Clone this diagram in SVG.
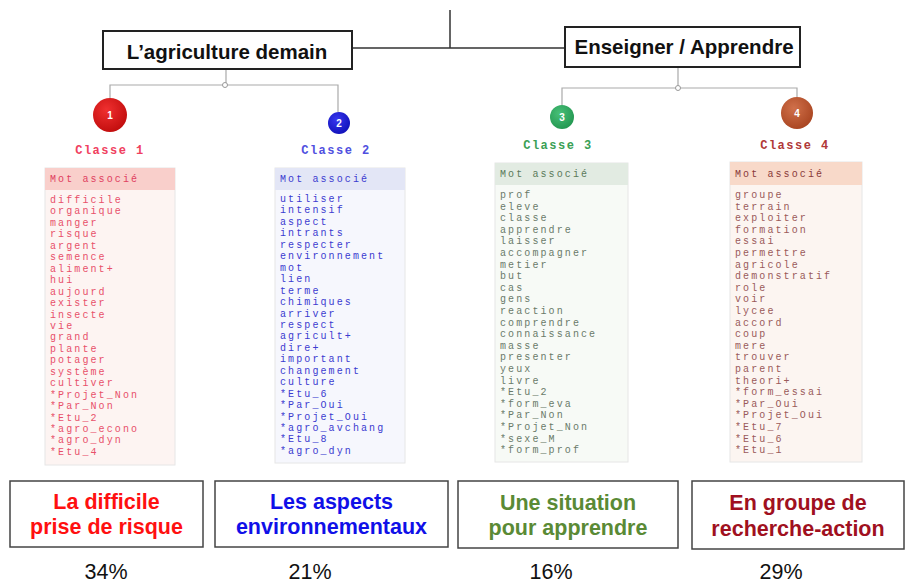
<svg xmlns="http://www.w3.org/2000/svg" width="905" height="584" viewBox="0 0 905 584">
<defs>
<radialGradient id="g1" cx="0.4" cy="0.35" r="0.7"><stop offset="0" stop-color="#f03030"/><stop offset="1" stop-color="#c00c0c"/></radialGradient>
<radialGradient id="g2" cx="0.4" cy="0.35" r="0.7"><stop offset="0" stop-color="#3838f0"/><stop offset="1" stop-color="#1010b8"/></radialGradient>
<radialGradient id="g3" cx="0.4" cy="0.35" r="0.7"><stop offset="0" stop-color="#48c078"/><stop offset="1" stop-color="#229650"/></radialGradient>
<radialGradient id="g4" cx="0.4" cy="0.35" r="0.7"><stop offset="0" stop-color="#d0704a"/><stop offset="1" stop-color="#a84420"/></radialGradient>
<style>
.hbox{fill:#fff;stroke:#222;stroke-width:2}
.htxt{font-family:"Liberation Sans",Arial,sans-serif;font-weight:bold;font-size:20.5px;fill:#111;text-anchor:middle}
.tree{fill:none;stroke:#aaa;stroke-width:1.2}
.main{fill:none;stroke:#333;stroke-width:1.5}
.num{font-family:"Liberation Sans",Arial,sans-serif;font-weight:bold;font-size:10px;fill:#fff;text-anchor:middle}
.cl{font-family:"Liberation Mono","Courier New",monospace;font-weight:bold;font-size:12px;letter-spacing:1.5px;text-anchor:middle}
.mono{font-family:"Liberation Mono","Courier New",monospace;font-size:10px;letter-spacing:2.1px}
.list{stroke:#e6e6e6;stroke-width:1}
.bbox{fill:#fff;stroke:#444;stroke-width:1.5}
.btxt{font-family:"Liberation Sans",Arial,sans-serif;font-weight:bold;font-size:21.5px;text-anchor:middle}
.pct{font-family:"Liberation Sans",Arial,sans-serif;font-size:21.5px;fill:#111;text-anchor:middle}
</style>
</defs>
<rect width="905" height="584" fill="#fff"/>

<g id="connectors">
<path class="main" d="M450,10 V48 M352,48 H565"/>
<path class="tree" d="M226,70 V85 M110,98 V85 H338 V112"/>
<circle cx="225" cy="85" r="2.5" fill="#fff" stroke="#999" stroke-width="1"/>
<path class="tree" d="M678,68 V88 M562,105 V88 H797 V97"/>
<circle cx="678" cy="88" r="2.5" fill="#fff" stroke="#999" stroke-width="1"/>
</g>

<g id="node-agriculture">
<rect class="hbox" x="103" y="31" width="249" height="38"/>
<text class="htxt" x="227" y="59">L’agriculture demain</text>
</g>
<g id="node-enseigner">
<rect class="hbox" x="565" y="27" width="235" height="40"/>
<text class="htxt" x="684" y="54">Enseigner / Apprendre</text>
</g>

<g id="classe1">
<circle cx="110" cy="115" r="17" fill="url(#g1)"/>
<text class="num" x="110" y="119">1</text>
<text class="cl" x="110" y="154" fill="#f04060">Classe 1</text>
</g>
<g id="classe2">
<circle cx="339" cy="123" r="11" fill="url(#g2)"/>
<text class="num" x="339" y="127">2</text>
<text class="cl" x="336" y="154" fill="#5050e0">Classe 2</text>
</g>
<g id="classe3">
<circle cx="562" cy="117" r="12" fill="url(#g3)"/>
<text class="num" x="562" y="121">3</text>
<text class="cl" x="558" y="149" fill="#3aa055">Classe 3</text>
</g>
<g id="classe4">
<circle cx="797" cy="113" r="16" fill="url(#g4)"/>
<text class="num" x="797" y="117">4</text>
<text class="cl" x="795" y="149" fill="#b03838">Classe 4</text>
</g>

<g id="list1">
<rect class="list" x="45" y="168" width="130" height="297" fill="#fdf4f2"/>
<rect x="45" y="168" width="130" height="22" fill="#f9cfcb"/>
<text class="mono" x="50" y="182" fill="#e04060">Mot associé</text>
<text class="mono" fill="#e8506a"><tspan x="50" y="203">difficile</tspan><tspan x="50" dy="11.45">organique</tspan><tspan x="50" dy="11.45">manger</tspan><tspan x="50" dy="11.45">risque</tspan><tspan x="50" dy="11.45">argent</tspan><tspan x="50" dy="11.45">semence</tspan><tspan x="50" dy="11.45">aliment+</tspan><tspan x="50" dy="11.45">hui</tspan><tspan x="50" dy="11.45">aujourd</tspan><tspan x="50" dy="11.45">exister</tspan><tspan x="50" dy="11.45">insecte</tspan><tspan x="50" dy="11.45">vie</tspan><tspan x="50" dy="11.45">grand</tspan><tspan x="50" dy="11.45">plante</tspan><tspan x="50" dy="11.45">potager</tspan><tspan x="50" dy="11.45">système</tspan><tspan x="50" dy="11.45">cultiver</tspan><tspan x="50" dy="11.45">*Projet_Non</tspan><tspan x="50" dy="11.45">*Par_Non</tspan><tspan x="50" dy="11.45">*Etu_2</tspan><tspan x="50" dy="11.45">*agro_econo</tspan><tspan x="50" dy="11.45">*agro_dyn</tspan><tspan x="50" dy="11.45">*Etu_4</tspan></text>
</g>

<g id="list2">
<rect class="list" x="275" y="168" width="130" height="295" fill="#f6f7fd"/>
<rect x="275" y="168" width="130" height="22" fill="#e3e6f6"/>
<text class="mono" x="280" y="182" fill="#3b3bd0">Mot associé</text>
<text class="mono" fill="#3b3bd0"><tspan x="280" y="202">utiliser</tspan><tspan x="280" dy="11.45">intensif</tspan><tspan x="280" dy="11.45">aspect</tspan><tspan x="280" dy="11.45">intrants</tspan><tspan x="280" dy="11.45">respecter</tspan><tspan x="280" dy="11.45">environnement</tspan><tspan x="280" dy="11.45">mot</tspan><tspan x="280" dy="11.45">lien</tspan><tspan x="280" dy="11.45">terme</tspan><tspan x="280" dy="11.45">chimiques</tspan><tspan x="280" dy="11.45">arriver</tspan><tspan x="280" dy="11.45">respect</tspan><tspan x="280" dy="11.45">agricult+</tspan><tspan x="280" dy="11.45">dire+</tspan><tspan x="280" dy="11.45">important</tspan><tspan x="280" dy="11.45">changement</tspan><tspan x="280" dy="11.45">culture</tspan><tspan x="280" dy="11.45">*Etu_6</tspan><tspan x="280" dy="11.45">*Par_Oui</tspan><tspan x="280" dy="11.45">*Projet_Oui</tspan><tspan x="280" dy="11.45">*agro_avchang</tspan><tspan x="280" dy="11.45">*Etu_8</tspan><tspan x="280" dy="11.45">*agro_dyn</tspan></text>
</g>

<g id="list3">
<rect class="list" x="495" y="163" width="133" height="299" fill="#f7faf6"/>
<rect x="495" y="163" width="133" height="22" fill="#e2ebe2"/>
<text class="mono" x="500" y="177" fill="#5a7a5a">Mot associé</text>
<text class="mono" fill="#6a7a6a"><tspan x="500" y="198">prof</tspan><tspan x="500" dy="11.6">eleve</tspan><tspan x="500" dy="11.6">classe</tspan><tspan x="500" dy="11.6">apprendre</tspan><tspan x="500" dy="11.6">laisser</tspan><tspan x="500" dy="11.6">accompagner</tspan><tspan x="500" dy="11.6">metier</tspan><tspan x="500" dy="11.6">but</tspan><tspan x="500" dy="11.6">cas</tspan><tspan x="500" dy="11.6">gens</tspan><tspan x="500" dy="11.6">reaction</tspan><tspan x="500" dy="11.6">comprendre</tspan><tspan x="500" dy="11.6">connaissance</tspan><tspan x="500" dy="11.6">masse</tspan><tspan x="500" dy="11.6">presenter</tspan><tspan x="500" dy="11.6">yeux</tspan><tspan x="500" dy="11.6">livre</tspan><tspan x="500" dy="11.6">*Etu_2</tspan><tspan x="500" dy="11.6">*form_eva</tspan><tspan x="500" dy="11.6">*Par_Non</tspan><tspan x="500" dy="11.6">*Projet_Non</tspan><tspan x="500" dy="11.6">*sexe_M</tspan><tspan x="500" dy="11.6">*form_prof</tspan></text>
</g>

<g id="list4">
<rect class="list" x="730" y="162" width="132" height="300" fill="#fcf5f1"/>
<rect x="730" y="162" width="132" height="23" fill="#f8d9c9"/>
<text class="mono" x="735" y="177" fill="#8a3a3a">Mot associé</text>
<text class="mono" fill="#9a5a5a"><tspan x="735" y="198">groupe</tspan><tspan x="735" dy="11.6">terrain</tspan><tspan x="735" dy="11.6">exploiter</tspan><tspan x="735" dy="11.6">formation</tspan><tspan x="735" dy="11.6">essai</tspan><tspan x="735" dy="11.6">permettre</tspan><tspan x="735" dy="11.6">agricole</tspan><tspan x="735" dy="11.6">demonstratif</tspan><tspan x="735" dy="11.6">role</tspan><tspan x="735" dy="11.6">voir</tspan><tspan x="735" dy="11.6">lycee</tspan><tspan x="735" dy="11.6">accord</tspan><tspan x="735" dy="11.6">coup</tspan><tspan x="735" dy="11.6">mere</tspan><tspan x="735" dy="11.6">trouver</tspan><tspan x="735" dy="11.6">parent</tspan><tspan x="735" dy="11.6">theori+</tspan><tspan x="735" dy="11.6">*form_essai</tspan><tspan x="735" dy="11.6">*Par_Oui</tspan><tspan x="735" dy="11.6">*Projet_Oui</tspan><tspan x="735" dy="11.6">*Etu_7</tspan><tspan x="735" dy="11.6">*Etu_6</tspan><tspan x="735" dy="11.6">*Etu_1</tspan></text>
</g>

<g id="theme1">
<rect class="bbox" x="10" y="481" width="193" height="66"/>
<text class="btxt" fill="#ff1010"><tspan x="106.5" y="509">La difficile</tspan><tspan x="106.5" y="534">prise de risque</tspan></text>
<text class="pct" x="106" y="579">34%</text>
</g>
<g id="theme2">
<rect class="bbox" x="215" y="481" width="233" height="66"/>
<text class="btxt" fill="#1010e8"><tspan x="331.5" y="509">Les aspects</tspan><tspan x="331.5" y="534">environnementaux</tspan></text>
<text class="pct" x="310" y="579">21%</text>
</g>
<g id="theme3">
<rect class="bbox" x="458" y="481" width="220" height="67"/>
<text class="btxt" fill="#5a8a35"><tspan x="568" y="510">Une situation</tspan><tspan x="568" y="535">pour apprendre</tspan></text>
<text class="pct" x="551" y="579">16%</text>
</g>
<g id="theme4">
<rect class="bbox" x="692" y="481" width="212" height="68"/>
<text class="btxt" fill="#a01020"><tspan x="798" y="510">En groupe de</tspan><tspan x="798" y="536">recherche-action</tspan></text>
<text class="pct" x="781" y="579">29%</text>
</g>
</svg>
